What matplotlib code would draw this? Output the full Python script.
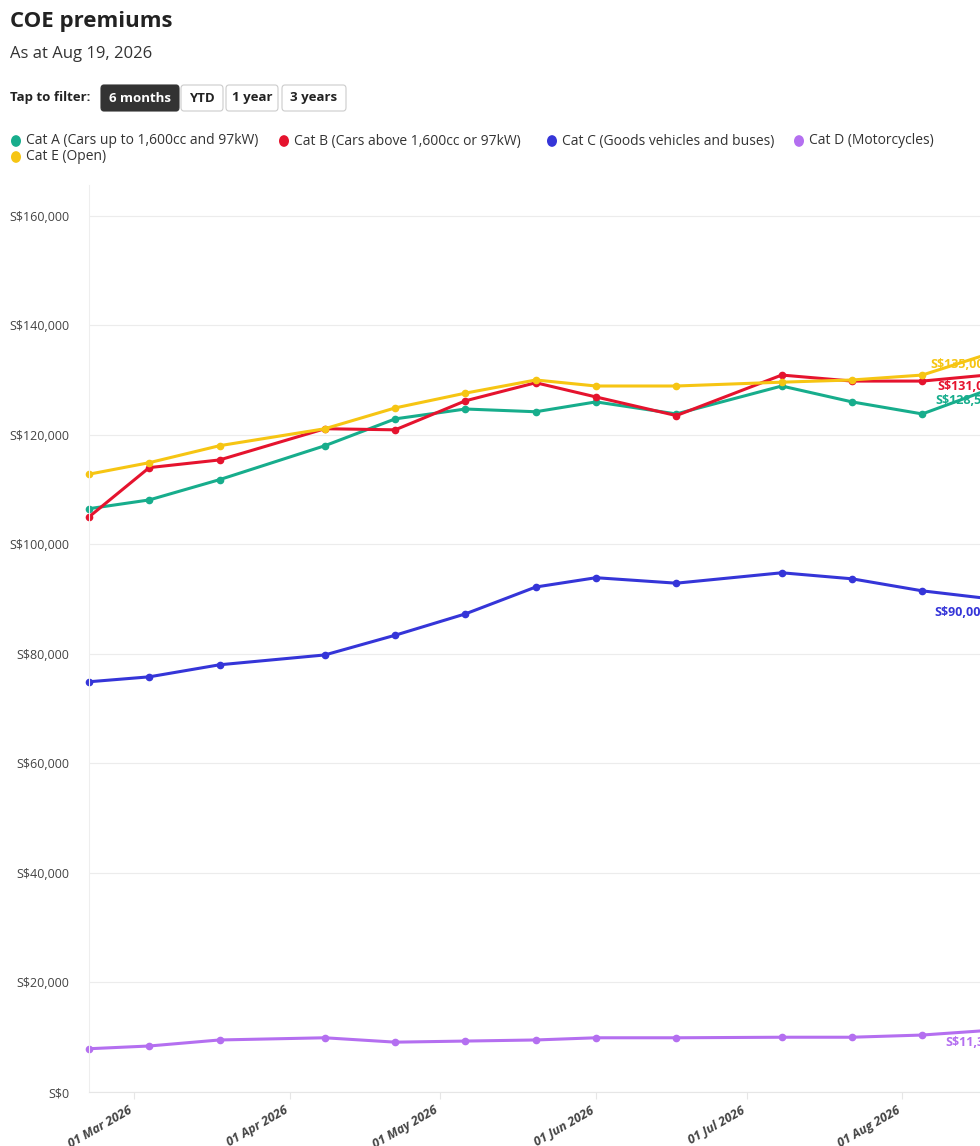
import numpy as np
import matplotlib.pyplot as plt
import matplotlib.dates as mdates
from matplotlib.patches import FancyBboxPatch, Circle
import datetime as dt

dates = ["2026-02-20", "2026-03-04", "2026-03-18", "2026-04-08", "2026-04-22", "2026-05-06",
         "2026-05-20", "2026-06-01", "2026-06-17", "2026-07-08", "2026-07-22", "2026-08-05", "2026-08-19"]
cat_a = [106500, 108100, 111800, 118000, 122900, 124700, 124200, 126000, 123800, 128900, 126000, 123800, 128500]
cat_b = [105000, 114000, 115400, 121100, 120900, 126200, 129500, 126900, 123500, 130900, 129800, 129800, 131000]
cat_c = [74900, 75800, 78000, 79800, 83400, 87300, 92200, 93900, 92900, 94800, 93700, 91500, 90000]
cat_d = [7900, 8400, 9500, 9900, 9100, 9300, 9500, 9900, 9900, 10000, 10000, 10400, 11300]
cat_e = [112800, 114900, 118000, 121100, 124900, 127600, 130000, 128900, 128900, 129600, 130000, 130900, 135000]

names = ["Cat A (Cars up to 1,600cc and 97kW)", "Cat B (Cars above 1,600cc or 97kW)",
         "Cat C (Goods vehicles and buses)", "Cat D (Motorcycles)", "Cat E (Open)"]
colors = ["#17ad8c", "#e5132e", "#3535d8", "#b46ff0", "#f6c513"]
series = [cat_a, cat_b, cat_c, cat_d, cat_e]

x = [dt.datetime.strptime(d, "%Y-%m-%d") for d in dates]
W, H = 980, 1146
fig = plt.figure(figsize=(W / 100, H / 100), dpi=100)
plt.rcParams["font.family"] = ["Open Sans", "DejaVu Sans"]

def fx(px):
    return px / W

def fy(py):
    return 1 - py / H

fig.text(fx(10), fy(22), "COE premiums", fontsize=16, weight="bold", color="#222", va="center")
fig.text(fx(10), fy(54), "As at Aug 19, 2026", fontsize=12, color="#333", va="center")
fig.text(fx(10), fy(98), "Tap to filter:", fontsize=9.5, weight="bold", color="#222", va="center")
buttons = [("6 months", 101, 78), ("YTD", 181, 42), ("1 year", 226, 52), ("3 years", 282, 64)]
for i, (lab, bx, bw) in enumerate(buttons):
    dark = i == 0
    fig.patches.append(FancyBboxPatch((fx(bx), fy(111)), fx(bw), 26 / H, boxstyle="round,pad=0,rounding_size=0.003",
                                      transform=fig.transFigure, fc="#333" if dark else "white",
                                      ec="#333" if dark else "#ccc", lw=0.8))
    fig.text(fx(bx + bw / 2), fy(98), lab, fontsize=9.5, weight="bold", ha="center", va="center",
             color="white" if dark else "#222")

leg_pos = [(11, 141), (279, 141), (547, 141), (794, 141), (11, 157)]
for (lx, ly), n, c in zip(leg_pos, names, colors):
    fig.patches.append(Circle((fx(lx + 5), fy(ly)), 5 / W, transform=fig.transFigure, fc=c, ec="none"))
    fig.text(fx(lx + 15), fy(ly), n, fontsize=10, color="#333", va="center")

ax = fig.add_axes([fx(89), 1 - 1092 / H, 1 - fx(89), (1092 - 185) / H])
for s, c in zip(series, colors):
    ax.plot(x, s, color=c, lw=2.2, marker="o", ms=4.5, clip_on=False)

offsets = [(14, -12), (14, -9), (14, -12), (22, -4), (12, 7)]
for s, c, (ox, oy), lab in zip(series, colors, offsets,
                                ["S$128,500", "S$131,000", "S$90,000", "S$11,300", "S$135,000"]):
    pass
lbl_px = [(935, 401), (937, 387), (934, 612), (945, 1043), (930, 365)]
for (lx, ly), c, lab in zip(lbl_px, colors, ["S$128,500", "S$131,000", "S$90,000", "S$11,300", "S$135,000"]):
    fig.text(fx(lx), fy(ly), lab, fontsize=9, weight="bold", color=c, va="center")

ax.set_ylim(0, 165600)
ax.set_xlim(dt.datetime(2026, 2, 20), dt.datetime(2026, 8, 16, 12))
ax.set_yticks(range(0, 160001, 20000))
ax.set_yticklabels(["S$0"] + [f"S${v:,}" for v in range(20000, 160001, 20000)])
ax.yaxis.grid(True, color="#ececec", lw=0.8)
ax.set_axisbelow(True)
ax.xaxis.set_major_locator(mdates.MonthLocator())
ax.xaxis.set_major_formatter(mdates.DateFormatter("%d %b %Y"))
for lab in ax.get_xticklabels():
    lab.set_rotation(30)
    lab.set_ha("right")
    lab.set_fontstyle("italic")
    lab.set_fontweight("bold")
ax.tick_params(axis="x", labelsize=9, colors="#444", length=5, color="#e6e6e6")
ax.tick_params(axis="y", labelsize=9, colors="#444", length=0, pad=14)
for sp in ["top", "right"]:
    ax.spines[sp].set_visible(False)
ax.spines["left"].set_color("#eeeeee")
ax.spines["bottom"].set_color("#e6e6e6")

fig.savefig("out.png", dpi=100)
